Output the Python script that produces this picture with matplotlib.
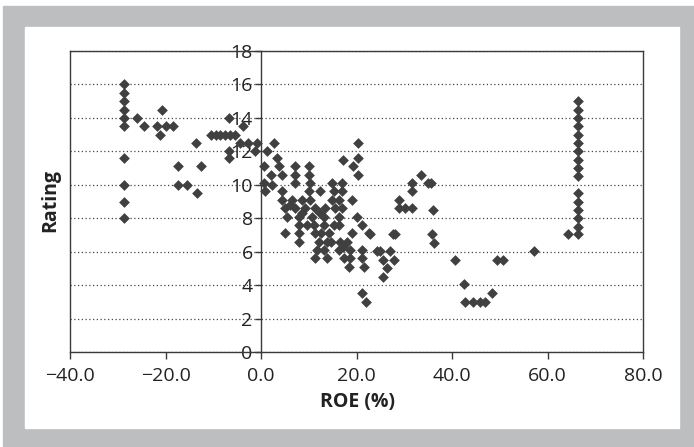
import matplotlib
matplotlib.use("Agg")
import matplotlib.pyplot as plt
from matplotlib.patches import Rectangle

# ROE (%) and rating for each firm
roe = [
    -28.6, -28.6, -28.6, -28.6, -28.6, -28.6, -28.6, -28.6, -28.6, -28.6,
    -26.0, -24.6, -21.8, -21.1, -20.7, -19.8, -18.4,
    -13.7, -17.3, -12.6, -17.3, -15.4, -13.3,
    -10.4, -9.5, -8.5, -7.5, -6.5, -5.5,
    -3.7, -6.7, -6.7, -6.7,
    -4.4, -2.7, -0.9, -1.3,
    2.8, 1.3, 3.4, 0.7, 3.7, 4.3, 2.0, 0.7, 2.3, 0.9, 4.4,
    7.2, 10.0, 7.2, 10.0, 7.2, 10.3, 10.0, 12.4, 14.9, 17.0, 15.2, 17.0,
    4.4, 6.5, 8.6, 10.3, 14.9, 16.3, 19.1,
    5.1, 7.2, 9.3, 11.4, 13.5, 15.6, 17.0,
    5.5, 7.9, 10.7, 13.1, 16.3, 20.1,
    5.1, 7.9, 11.0, 13.1, 16.3, 21.2,
    7.9, 11.4, 14.2, 19.1, 22.6,
    7.9, 12.1, 13.8, 16.6, 18.0,
    11.7, 13.1, 16.3, 18.7, 21.2,
    11.4, 13.8, 17.3, 18.7, 21.2,
    18.4, 21.5, 21.1, 22.0,
    6.0, 8.6, 12.3, 9.6, 12.6, 14.6, 15.3, 17.2,
    17.2, 20.4, 20.4, 19.3, 20.4,
    24.2, 24.9, 27.0, 25.6, 27.9, 26.4, 25.6, 22.8, 27.6, 28.1,
    33.6, 31.6, 35.0, 35.7, 31.6, 28.8, 28.8, 30.2, 31.6, 36.1,
    35.9, 36.3, 40.6, 49.4, 50.7, 57.2, 42.5, 48.4, 42.7, 44.3, 45.9, 46.9,
    64.2, 66.3, 66.3,
    66.3, 66.3, 66.3, 66.3, 66.3, 66.3, 66.3, 66.3, 66.3, 66.3,
    66.3, 66.3, 66.3, 66.3,
]
rating = [
    16.0, 15.5, 15.0, 14.5, 14.0, 13.5, 11.6, 10.0, 9.0, 8.0,
    14.0, 13.5, 13.5, 13.0, 14.5, 13.5, 13.5,
    12.5, 11.1, 11.1, 10.0, 10.0, 9.5,
    13.0, 13.0, 13.0, 13.0, 13.0, 13.0,
    13.5, 14.0, 12.0, 11.6,
    12.5, 12.5, 12.5, 12.0,
    12.5, 12.0, 11.6, 11.1, 11.1, 10.6, 10.6, 10.1, 10.0, 9.6, 9.6,
    11.1, 11.1, 10.6, 10.6, 10.1, 10.1, 9.6, 9.6, 10.1, 10.1, 9.6, 9.6,
    9.1, 9.1, 9.1, 9.1, 9.1, 9.1, 9.1,
    8.6, 8.6, 8.6, 8.6, 8.6, 8.6, 8.6,
    8.1, 8.1, 8.1, 8.1, 8.1, 8.1,
    7.1, 7.6, 7.6, 7.6, 7.6, 7.6,
    7.1, 7.1, 7.1, 7.1, 7.1,
    6.6, 6.6, 6.6, 6.6, 6.6,
    6.1, 6.1, 6.1, 6.1, 6.1,
    5.6, 5.6, 5.6, 5.6, 5.6,
    5.1, 5.1, 3.55, 3.0,
    8.8, 8.3, 8.3, 7.6, 7.1, 6.6, 7.6, 6.3,
    11.5, 12.5, 11.6, 11.1, 10.6,
    6.06, 6.06, 6.06, 5.5, 5.5, 5.0, 4.5, 7.06, 7.06, 7.06,
    10.6, 10.1, 10.1, 10.1, 9.6, 9.1, 8.6, 8.6, 8.6, 8.5,
    7.06, 6.5, 5.5, 5.5, 5.5, 6.06, 4.07, 3.55, 3.0, 3.0, 3.0, 3.0,
    7.06, 7.06, 7.5,
    15.0, 14.5, 14.0, 13.5, 13.0, 12.5, 12.0, 11.5, 11.0, 10.5,
    9.5, 9.0, 8.5, 8.0,
]

x_ticks = [-40, -20, 0, 20, 40, 60, 80]
x_tick_labels = ["\u221240.0", "\u221220.0", "0.0", "20.0", "40.0", "60.0", "80.0"]
y_ticks = [0, 2, 4, 6, 8, 10, 12, 14, 16, 18]

plt.rcParams['font.family'] = ['Open Sans', 'DejaVu Sans']

W, H = 694, 447
fig = plt.figure(figsize=(W / 100, H / 100), dpi=100)

# grey frame with white panel inside
fig.patches.append(Rectangle((3 / W, 0), 691 / W, 441 / H,
                             transform=fig.transFigure, color='#bdbec0', zorder=-2))
fig.patches.append(Rectangle((25 / W, 19 / H), 654 / W, 401 / H,
                             transform=fig.transFigure, color='white', zorder=-1))

ax = fig.add_axes([70 / W, 95 / H, 573 / W, 301 / H])
ax.set_facecolor('none')
ax.set_xlim(-40, 80)
ax.set_ylim(0, 18)

frame_col = '#3a3a3a'
for s in ['top', 'right', 'bottom', 'left']:
    ax.spines[s].set_color(frame_col)
    ax.spines[s].set_linewidth(1.0)
ax.spines['left'].set_position(('data', 0))
# left edge of the plot box
ax.axvline(-40, color=frame_col, lw=1.0, clip_on=False, zorder=2)

ax.set_xticks(x_ticks)
ax.set_xticklabels(x_tick_labels)
ax.set_yticks(y_ticks)
ax.set_yticklabels([str(v) for v in y_ticks])
ax.tick_params(axis='y', direction='out', length=4, width=1, pad=2,
               labelsize=14, colors=frame_col, labelcolor='#222222')
ax.tick_params(axis='x', direction='out', length=5, width=1, pad=6,
               labelsize=14, colors=frame_col, labelcolor='#222222')

ax.yaxis.grid(True, linestyle=(0, (1, 2)), color='#444444', linewidth=0.9)
ax.set_axisbelow(True)

ax.scatter(roe, rating, marker='D', s=30, color='#404040', linewidths=0, zorder=3)

fig.text(50 / W, 1 - 201 / H, 'Rating', rotation=90, ha='center', va='center',
         fontsize=14, fontweight='bold', color='#222222')
fig.text(357 / W, 1 - 402 / H, 'ROE (%)', ha='center', va='center',
         fontsize=14, fontweight='bold', color='#222222')

fig.savefig('out.png', dpi=100)
